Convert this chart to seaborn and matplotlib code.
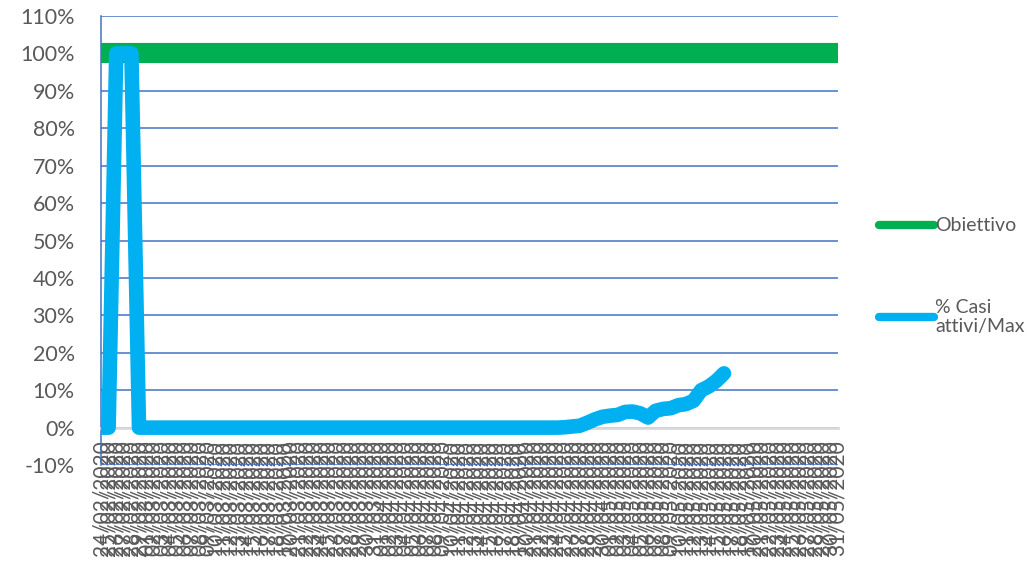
import matplotlib
matplotlib.use("Agg")
import matplotlib.pyplot as plt
from matplotlib.ticker import PercentFormatter, MultipleLocator
import numpy as np
import pandas as pd
import seaborn as sns

# daily categories 24/02/2020 .. 31/05/2020
dates = pd.date_range("2020-02-24", "2020-05-31", freq="D").strftime("%d/%m/%Y").tolist()

# target line (constant 100%)
obiettivo = [1.0] * len(dates)

# % active cases / max (ends on 16/05/2020)
casi_attivi = [
    0.0, 0.0, 1.0, 1.0, 1.0, 0.0, 0.0, 0.0, 0.0, 0.0,
    0.0, 0.0, 0.0, 0.0, 0.0, 0.0, 0.0, 0.0, 0.0, 0.0,
    0.0, 0.0, 0.0, 0.0, 0.0, 0.0, 0.0, 0.0, 0.0, 0.0,
    0.0, 0.0, 0.0, 0.0, 0.0, 0.0, 0.0, 0.0, 0.0, 0.0,
    0.0, 0.0, 0.0, 0.0, 0.0, 0.0, 0.0, 0.0, 0.0, 0.0,
    0.0, 0.0, 0.0, 0.0, 0.0, 0.0, 0.0, 0.0, 0.0, 0.0,
    0.0, 0.001, 0.003, 0.005, 0.013, 0.022, 0.029, 0.032, 0.034, 0.042,
    0.043, 0.038, 0.027, 0.045, 0.050, 0.052, 0.060, 0.063, 0.072, 0.100,
    0.110, 0.125, 0.145,
]

sns.set_style("white")
plt.rcParams["font.family"] = ["Lato", "DejaVu Sans"]
plt.rcParams["axes.unicode_minus"] = False

GRID_BLUE = "#4472C4"
TXT = "#595959"

fig = plt.figure(figsize=(10.34, 5.77), dpi=100)
ax = fig.add_axes([0.0977, 0.194, 0.7127, 0.7783])

df_obj = pd.DataFrame({"x": np.arange(len(obiettivo)), "y": obiettivo})
df_cas = pd.DataFrame({"x": np.arange(len(casi_attivi)), "y": casi_attivi})

sns.lineplot(data=df_obj, x="x", y="y", ax=ax, color="#00B050", linewidth=14.5,
             solid_capstyle="round", solid_joinstyle="round", label="Obiettivo", zorder=3)
sns.lineplot(data=df_cas, x="x", y="y", ax=ax, color="#00B0F0", linewidth=10.5,
             solid_capstyle="round", solid_joinstyle="round", label="% Casi\nattivi/Max", zorder=4)

ax.set_xlim(0, len(dates) - 1)
ax.set_ylim(-0.1, 1.1)
ax.yaxis.set_major_locator(MultipleLocator(0.1))
ax.yaxis.set_major_formatter(PercentFormatter(1.0, decimals=0))
ax.set_xticks(np.arange(len(dates)))
ax.set_xticklabels(dates)
ax.set_xlabel("")
ax.set_ylabel("")

# horizontal gridlines
ax.grid(axis="y", color=GRID_BLUE, linewidth=1.1)
ax.grid(axis="x", visible=False)
ax.set_axisbelow(True)

for s in ["top", "right"]:
    ax.spines[s].set_visible(False)
ax.spines["left"].set_color(GRID_BLUE)
ax.spines["left"].set_linewidth(1.1)
ax.spines["bottom"].set_position(("data", 0))
ax.spines["bottom"].set_color("#D9D9D9")
ax.spines["bottom"].set_linewidth(2)
ax.spines["bottom"].set_zorder(2.5)

ax.tick_params(axis="x", length=0, pad=9, labelsize=15, labelcolor=TXT, labelrotation=90)
ax.tick_params(axis="y", length=0, pad=19, labelsize=15.5, labelcolor=TXT)

leg = ax.legend(loc="center left", bbox_to_anchor=(1.032, 0.42), frameon=False,
                fontsize=14, handlelength=2.85, handletextpad=0.05,
                labelspacing=3.3)
for t in leg.get_texts():
    t.set_color(TXT)
for h in leg.get_lines():
    h.set_linewidth(6)
    h.set_solid_capstyle("round")

fig.savefig("out.png", dpi=100)
